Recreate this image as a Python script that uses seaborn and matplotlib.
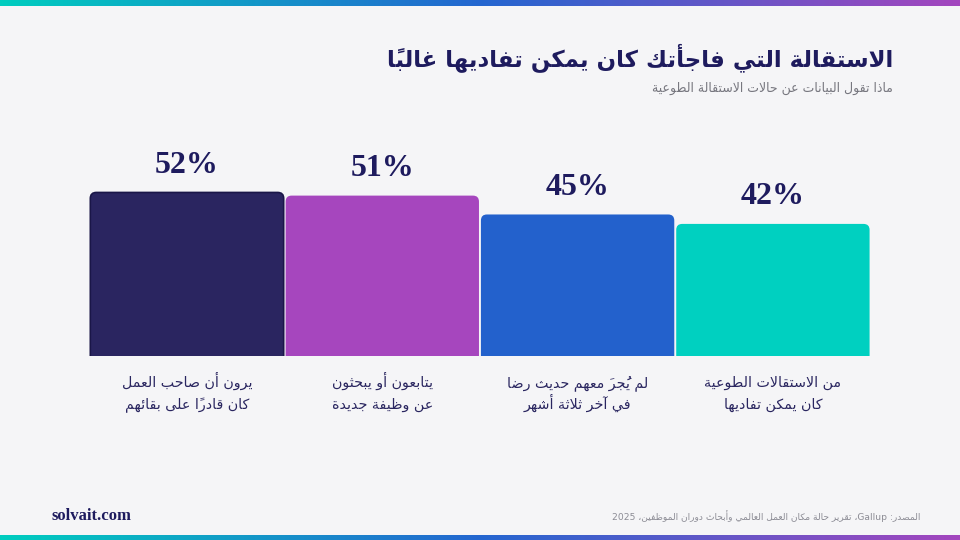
# -*- coding: utf-8 -*-
import re
import numpy as np
import pandas as pd
import matplotlib
matplotlib.use("Agg")
import matplotlib.pyplot as plt
import seaborn as sns
from matplotlib.colors import LinearSegmentedColormap
from matplotlib.patches import FancyBboxPatch

# data
title = "الاستقالة التي فاجأتك كان يمكن تفاديها غالبًا"
subtitle = "ماذا تقول البيانات عن حالات الاستقالة الطوعية"
categories = [
    "يرون أن صاحب العمل\nكان قادرًا على بقائهم",
    "يتابعون أو يبحثون\nعن وظيفة جديدة",
    "لم يُجرَ معهم حديث رضا\nفي آخر ثلاثة أشهر",
    "من الاستقالات الطوعية\nكان يمكن تفاديها",
]
values = [52, 51, 45, 42]
bar_colors = ["#2A2560", "#A646BE", "#2361CC", "#00D0C0"]
source = "المصدر: Gallup، تقرير حالة مكان العمل العالمي وأبحاث دوران الموظفين، 2025"
site = "solvait.com"

NAVY = "#1E1B5E"
BG = "#F5F5F7"

# --- minimal arabic shaping (matplotlib has no complex text layout) ---
DUAL = {'ئ': 0xFE89, 'ب': 0xFE8F, 'ت': 0xFE95, 'ث': 0xFE99, 'ج': 0xFE9D, 'ح': 0xFEA1,
        'خ': 0xFEA5, 'س': 0xFEB1, 'ش': 0xFEB5, 'ص': 0xFEB9, 'ض': 0xFEBD, 'ط': 0xFEC1,
        'ظ': 0xFEC5, 'ع': 0xFEC9, 'غ': 0xFECD, 'ف': 0xFED1, 'ق': 0xFED5, 'ك': 0xFED9,
        'ل': 0xFEDD, 'م': 0xFEE1, 'ن': 0xFEE5, 'ه': 0xFEE9, 'ي': 0xFEF1}
RIGHT = {'آ': 0xFE81, 'أ': 0xFE83, 'ؤ': 0xFE85, 'إ': 0xFE87, 'ا': 0xFE8D, 'ة': 0xFE93,
         'د': 0xFEA9, 'ذ': 0xFEAB, 'ر': 0xFEAD, 'ز': 0xFEAF, 'و': 0xFEED, 'ى': 0xFEEF}
LAMALEF = {'آ': 0xFEF5, 'أ': 0xFEF7, 'إ': 0xFEF9, 'ا': 0xFEFB}


def is_mark(ch):
    return 0x064B <= ord(ch) <= 0x0652 or ord(ch) == 0x0670


def shape_line(text):
    units = []
    for ch in text:
        if is_mark(ch) and units:
            units[-1][1] += ch
        else:
            units.append([ch, ''])
    merged = []
    i = 0
    while i < len(units):
        b, m = units[i]
        if b == 'ل' and i + 1 < len(units) and units[i + 1][0] in LAMALEF:
            merged.append(['LA' + units[i + 1][0], m + units[i + 1][1]])
            i += 2
        else:
            merged.append([b, m])
            i += 1

    def joins_next(b):
        return b in DUAL or b == 'ـ'

    def joins_prev(b):
        return b in DUAL or b in RIGHT or b.startswith('LA') or b == 'ـ'

    out = []
    for i, (b, m) in enumerate(merged):
        prv = merged[i - 1][0] if i > 0 else None
        nxt = merged[i + 1][0] if i + 1 < len(merged) else None
        p = prv is not None and joins_next(prv) and joins_prev(b)
        n = nxt is not None and joins_next(b) and joins_prev(nxt)
        if b.startswith('LA'):
            g = chr(LAMALEF[b[2]] + (1 if p else 0))
        elif b in DUAL:
            g = chr(DUAL[b] + (3 if p and n else 2 if n else 1 if p else 0))
        elif b in RIGHT:
            g = chr(RIGHT[b] + (1 if p else 0))
        elif b == 'ء':
            g = '\uFE80'
        else:
            g = b
        # marks go before the base in visual order so they sit over it
        out.append(g + m[::-1])
    s = ''.join(out)[::-1]
    s = re.sub(r'[A-Za-z0-9.]+', lambda mo: mo.group(0)[::-1], s)
    return s


def ar(text):
    return '\n'.join(shape_line(t) for t in text.split('\n'))


sns.set_theme(style="white")
plt.rcParams['font.family'] = ['DejaVu Sans']

fig = plt.figure(figsize=(9.6, 5.4), dpi=100, facecolor=BG)

# bar area: baseline at y=356px, bars from x=90 to 870
px_x = 195.3
px_y = 3.145
ymax = 60
ax = fig.add_axes([(187 - 0.5 * px_x) / 960, (540 - 356) / 540, 4 * px_x / 960, ymax * px_y / 540])
ax.set_facecolor(BG)

df = pd.DataFrame({"label": categories, "value": values})
sns.barplot(data=df, x="label", y="value", hue="label", palette=bar_colors,
            width=0.99, legend=False, ax=ax, saturation=1)
ax.set_xlim(-0.5, 3.5)
ax.set_ylim(0, ymax)

# rounded tops
r = 6 / px_x
aspect = px_x / px_y
for i, p in enumerate(list(ax.patches)):
    x0, w, h = p.get_x(), p.get_width(), p.get_height()
    fc = p.get_facecolor()
    p.remove()
    ec = "#1A1648" if i == 0 else fc
    box = FancyBboxPatch((x0, -5), w, h + 5,
                         boxstyle=f"round,pad=0,rounding_size={r}",
                         mutation_aspect=aspect, facecolor=fc, edgecolor=ec,
                         linewidth=1.2 if i == 0 else 0)
    ax.add_patch(box)

for i, v in enumerate(values):
    ax.text(i, v + 8.6, f"{v}%", ha="center", va="center", fontsize=23,
            family="Liberation Serif", weight="bold", color=NAVY)
    # each label line placed on its own baseline
    for k, line in enumerate(categories[i].split("\n")):
        ax.text(i, -(31 + 22 * k) / px_y, shape_line(line), ha="center",
                va="baseline", fontsize=10.3, color="#2A2660")

ax.axis("off")

fig.text(893 / 960, 1 - 58 / 540, ar(title), ha="right", va="center",
         fontsize=16.5, color=NAVY, weight="bold")
fig.text(893 / 960, 1 - 88 / 540, ar(subtitle), ha="right", va="center",
         fontsize=9, color="#77777F")

fig.text(52 / 960, 1 - 516 / 540, site, ha="left", va="center", fontsize=12,
         family="Liberation Serif", weight="bold", color=NAVY)
fig.text(920 / 960, 1 - 516 / 540, ar(source), ha="right", va="center",
         fontsize=6.6, color="#8C8C95")

# gradient strips
cmap = LinearSegmentedColormap.from_list("strip", ["#00CDBF", "#2466D0", "#A346BE"])
grad = np.linspace(0, 1, 512).reshape(1, -1)
for rect in ([0, 1 - 6 / 540, 1, 6 / 540], [0, 0, 1, 5 / 540]):
    gax = fig.add_axes(rect)
    gax.imshow(grad, aspect="auto", cmap=cmap)
    gax.axis("off")

fig.savefig("out.png", dpi=100, facecolor=fig.get_facecolor())
